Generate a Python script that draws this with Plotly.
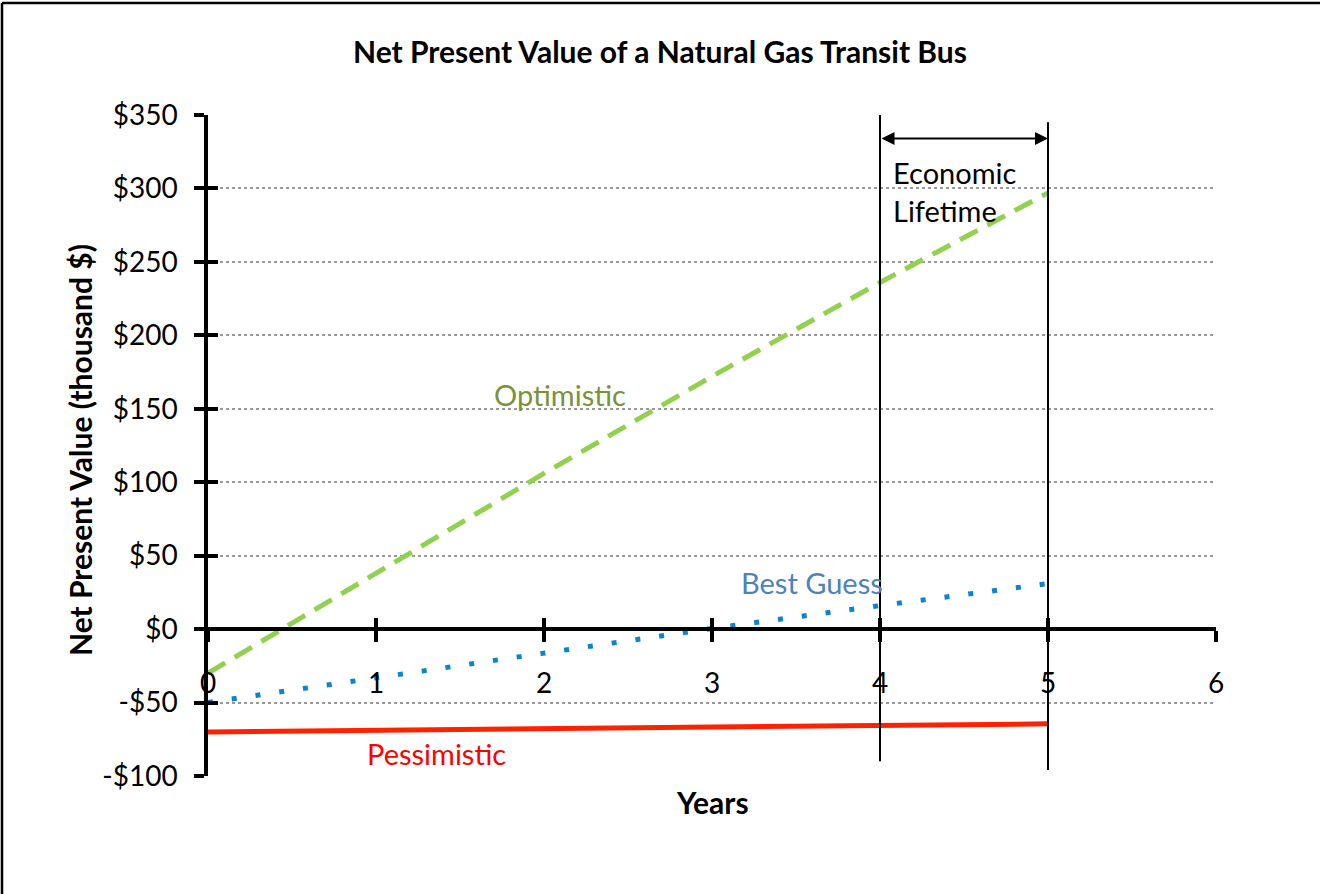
import plotly.graph_objects as go

years = [0, 1, 2, 3, 4, 5]
optimistic = [-30, 38, 106, 172, 236, 297]
best_guess = [-50, -33, -16, 0.5, 16, 31]
pessimistic = [-70, -69, -68, -66.5, -65.5, -64.5]

x_ticks = [0, 1, 2, 3, 4, 5, 6]
y_ticks = [-100, -50, 0, 50, 100, 150, 200, 250, 300, 350]
y_tick_labels = ["-$100", "-$50", "$0", "$50", "$100", "$150", "$200", "$250", "$300", "$350"]
y_range = [-100, 350]
x_range = [0, 6]

lifetime_start, lifetime_end = 4, 5
arrow_y = 334

FONT = "Lato"
xpos = (0 - y_range[0]) / (y_range[1] - y_range[0])

fig = go.Figure()
fig.add_trace(go.Scatter(x=years, y=pessimistic, mode="lines", name="Pessimistic",
                         line=dict(color="#FF2200", width=5)))
fig.add_trace(go.Scatter(x=years, y=best_guess, mode="lines", name="Best Guess",
                         line=dict(color="#0A84D0", width=5, dash="5px,19px")))
fig.add_trace(go.Scatter(x=years, y=optimistic, mode="lines", name="Optimistic",
                         line=dict(color="#92D050", width=5, dash="20px,11px")))

axis_font = dict(family=FONT, size=28, color="black")

fig.update_layout(
    width=1320, height=894,
    margin=dict(l=208, r=104, t=115, b=118),
    paper_bgcolor="white", plot_bgcolor="white",
    showlegend=False,
    font=dict(family=FONT, color="black"),
    title=dict(text="<b>Net Present Value of a Natural Gas Transit Bus</b>",
               x=0.5, xanchor="center", y=1 - 52 / 894, yanchor="middle", yref="container",
               font=dict(family=FONT, size=30, color="black")),
    xaxis=dict(range=x_range, tickvals=x_ticks, ticktext=[str(v) for v in x_ticks],
               anchor="free", position=xpos, showline=True, linecolor="black", linewidth=3.5,
               ticks="outside", ticklen=11, tickwidth=3.5, tickcolor="black",
               ticklabelstandoff=18, tickfont=axis_font, showgrid=False, zeroline=False),
    xaxis2=dict(range=x_range, tickvals=x_ticks, overlaying="x", anchor="free", position=xpos,
                showline=False, ticks="inside", ticklen=11, tickwidth=3.5, tickcolor="black",
                showticklabels=False, showgrid=False, zeroline=False),
    yaxis=dict(range=y_range, tickvals=y_ticks, ticktext=y_tick_labels,
               showline=True, linecolor="black", linewidth=3.5,
               ticks="outside", ticklen=10, tickwidth=3.5, tickcolor="black",
               ticklabelstandoff=11, tickfont=axis_font,
               showgrid=True, gridcolor="#999999", gridwidth=2, griddash="dot", zeroline=False),
    yaxis2=dict(range=y_range, tickvals=y_ticks, overlaying="y", anchor="x",
                showline=False, ticks="inside", ticklen=10, tickwidth=3.5, tickcolor="black",
                showticklabels=False, showgrid=False, zeroline=False),
)

# invisible trace to activate overlay axes
fig.add_trace(go.Scatter(x=[x_range[0]], y=[y_range[0]], xaxis="x2", yaxis="y2",
                         mode="markers", marker=dict(opacity=0), hoverinfo="skip"))

# Economic lifetime vertical lines
fig.add_shape(type="line", x0=lifetime_start, x1=lifetime_start, y0=-90, y1=350,
              line=dict(color="black", width=2))
fig.add_shape(type="line", x0=lifetime_end, x1=lifetime_end, y0=-96, y1=345,
              line=dict(color="black", width=2))
fig.add_annotation(x=lifetime_end, y=arrow_y, ax=lifetime_start, ay=arrow_y,
                   xref="x", yref="y", axref="x", ayref="y", text="",
                   showarrow=True, arrowhead=2, arrowside="end+start",
                   arrowwidth=2, arrowsize=1.3, arrowcolor="black")
fig.add_annotation(x=4.065, y=298, xref="x", yref="y", text="Economic<br>Lifetime",
                   showarrow=False, xanchor="left", yanchor="middle", align="left",
                   font=dict(family=FONT, size=29, color="black"))

# series labels
fig.add_annotation(x=2.095, y=160, text="Optimistic", showarrow=False,
                   font=dict(family=FONT, size=29, color="#77933C"))
fig.add_annotation(x=3.595, y=32, text="Best Guess", showarrow=False,
                   font=dict(family=FONT, size=29, color="#4F81BD"))
fig.add_annotation(x=1.363, y=-84.4, text="Pessimistic", showarrow=False,
                   font=dict(family=FONT, size=29, color="#FF0000"))

# axis titles
fig.add_annotation(x=0.5, y=(776 - 802) / 661, xref="paper", yref="paper",
                   text="<b>Years</b>", showarrow=False, yanchor="middle",
                   font=dict(family=FONT, size=30, color="black"))
fig.add_annotation(x=(80 - 208) / 1008, y=(776 - 450) / 661, xref="paper", yref="paper",
                   text="<b>Net Present Value (thousand $)</b>", showarrow=False,
                   textangle=-90, xanchor="center", yanchor="middle",
                   font=dict(family=FONT, size=30, color="black"))

# outer border (top and left edges)
fig.add_shape(type="line", xref="paper", yref="paper", x0=(2 - 208) / 1008, x1=(1320 - 208) / 1008,
              y0=(776 - 3) / 661, y1=(776 - 3) / 661, line=dict(color="black", width=2.5))
fig.add_shape(type="line", xref="paper", yref="paper", x0=(2 - 208) / 1008, x1=(2 - 208) / 1008,
              y0=(776 - 3) / 661, y1=(776 - 894) / 661, line=dict(color="black", width=2.5))

fig.write_html("out.html", config={"displayModeBar": False},
               post_script="document.body.style.margin='0';")
